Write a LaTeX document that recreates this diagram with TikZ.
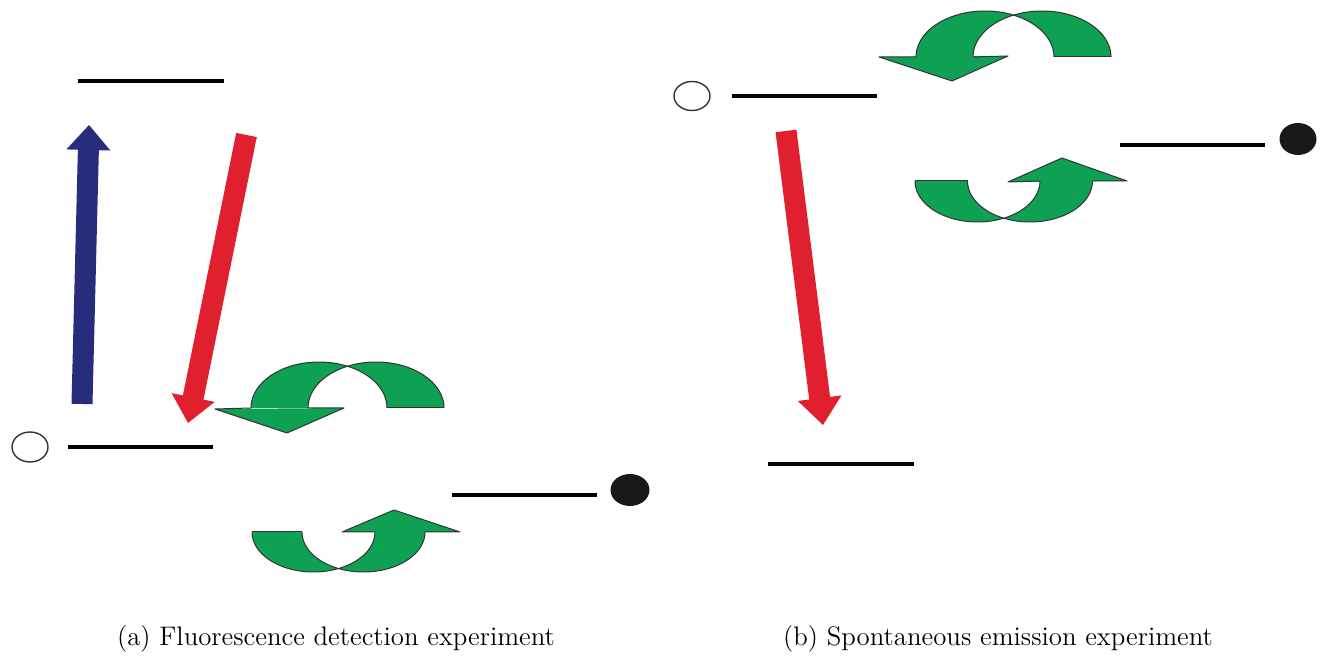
\documentclass[tikz,border=0pt]{standalone}
\usetikzlibrary{calc,shapes.geometric}
\definecolor{gfillc}{RGB}{14,161,84}
\definecolor{navyc}{RGB}{40,44,125}
\definecolor{redc}{RGB}{224,32,46}
\tikzset{
  level/.style={line width=2pt,black},
  gfill/.style={fill=gfillc},
  gline/.style={draw=black!80,line width=0.5pt,line join=round},
  opendot/.style={draw=black!80,line width=0.7pt,fill=white},
  fulldot/.style={fill=black!90},
  captext/.style={font=\fontsize{13.4}{16}\selectfont,anchor=base},
}
% crescent pair: #1 cxL, #2 cxR, #3 base y, #4 a, #5 b (positive = hump up)
\newcommand\rotbands[5]{%
  \pgfmathsetmacro\tl{acos((#2-#1)/(2*#4))}%
  \pgfmathsetmacro\tr{180-\tl}%
  \fill[gfill]
    plot[domain=180:\tl,samples=50] ({#1+#4*cos(\x)},{#3-(#5)*sin(\x)}) --
    plot[domain=\tr:180,samples=50] ({#2+#4*cos(\x)},{#3-(#5)*sin(\x)}) -- cycle;
  \fill[gfill]
    plot[domain=\tr:0,samples=50] ({#2+#4*cos(\x)},{#3-(#5)*sin(\x)}) --
    plot[domain=0:\tl,samples=50] ({#1+#4*cos(\x)},{#3-(#5)*sin(\x)}) -- cycle;
  \draw[gline] plot[domain=0:180,samples=60] ({#1+#4*cos(\x)},{#3-(#5)*sin(\x)});
  \draw[gline] plot[domain=0:180,samples=60] ({#2+#4*cos(\x)},{#3-(#5)*sin(\x)});
}
% arrow head: #1 shaft end 1, #2 corner A, #3 tip, #4 corner C, #5 shaft end 2
\newcommand\rothead[5]{%
  \fill[gfill] #2 -- #3 -- #4 -- cycle;
  \draw[gline] #1 -- #2 -- #3 -- #4 -- #5;
}
% block arrow from #1 to #2, colour #3, head length #4
\newcommand\blockarrow[4]{%
  \coordinate (hb) at ($(#2)!#4!(#1)$);
  \fill[#3] ($(#1)!5.25pt!90:(#2)$) -- ($(hb)!5.25pt!-90:(#1)$) -- ($(hb)!11pt!-90:(#1)$)
    -- (#2) -- ($(hb)!11pt!90:(#1)$) -- ($(hb)!5.25pt!90:(#1)$) -- ($(#1)!5.25pt!-90:(#2)$) -- cycle;
}
\begin{document}
\begin{tikzpicture}[x=0.5pt,y=-0.5pt]
\useasboundingbox (0,0) rectangle (1328,656);

% ---------- (a) ----------
\coordinate (aTopL) at (78,81);   \coordinate (aTopR) at (224,81);
\coordinate (aLowL) at (68,447);  \coordinate (aLowR) at (213,447);
\coordinate (aRgtL) at (452,495); \coordinate (aRgtR) at (597,495);
\draw[level] (aTopL) -- (aTopR);
\draw[level] (aLowL) -- (aLowR);
\draw[level] (aRgtL) -- (aRgtR);
\node[opendot,ellipse,minimum width=18pt,minimum height=15pt,inner sep=0pt] (aOpen) at (30,447) {};
\node[fulldot,ellipse,minimum width=19.5pt,minimum height=16pt,inner sep=0pt] (aFull) at (630,490) {};

\coordinate (bluS) at (82,404); \coordinate (bluE) at (89,125);
\blockarrow{bluS}{bluE}{navyc}{12.5pt}
\coordinate (redaS) at (246.5,135); \coordinate (redaE) at (188,423);
\blockarrow{redaS}{redaE}{redc}{13pt}

\rotbands{319}{376}{408}{68}{46}
\rothead{(251,408)}{(215,409)}{(287,433)}{(344,408)}{(308,408)}
\draw[gline] (387,408) -- (444,408);

\rotbands{313.5}{363.5}{532}{61.5}{-40}
\rothead{(375,532)}{(342,532)}{(394,510)}{(460,532)}{(425,532)}
\draw[gline] (252,532) -- (302,532);

% ---------- (b) ----------
\coordinate (bTopL) at (732,96);   \coordinate (bTopR) at (877,96);
\coordinate (bRgtL) at (1120,145); \coordinate (bRgtR) at (1265,145);
\coordinate (bLowL) at (768,464);  \coordinate (bLowR) at (914,464);
\draw[level] (bTopL) -- (bTopR);
\draw[level] (bRgtL) -- (bRgtR);
\draw[level] (bLowL) -- (bLowR);
\node[opendot,ellipse,minimum width=18pt,minimum height=14.5pt,inner sep=0pt] (bOpen) at (692,96) {};
\node[fulldot,ellipse,minimum width=18.5pt,minimum height=16pt,inner sep=0pt] (bFull) at (1298,139) {};

\coordinate (redbS) at (786,131); \coordinate (redbE) at (823,425);
\blockarrow{redbS}{redbE}{redc}{13.5pt}

\rotbands{985}{1042}{57}{69}{46}
\rothead{(916,57)}{(879,57)}{(952,81)}{(1008,56)}{(973,57)}
\draw[gline] (1054,57) -- (1111,57);

\rotbands{977.5}{1030}{181}{62.5}{-41}
\rothead{(1040,181)}{(1008,182)}{(1062,158)}{(1127,181)}{(1092.5,181)}
\draw[gline] (915,181) -- (967.5,181);

% ---------- captions ----------
\node[captext] (capA) at (336,646) {(a) Fluorescence detection experiment};
\node[captext] (capB) at (998,646) {(b) Spontaneous emission experiment};
\end{tikzpicture}
\end{document}
